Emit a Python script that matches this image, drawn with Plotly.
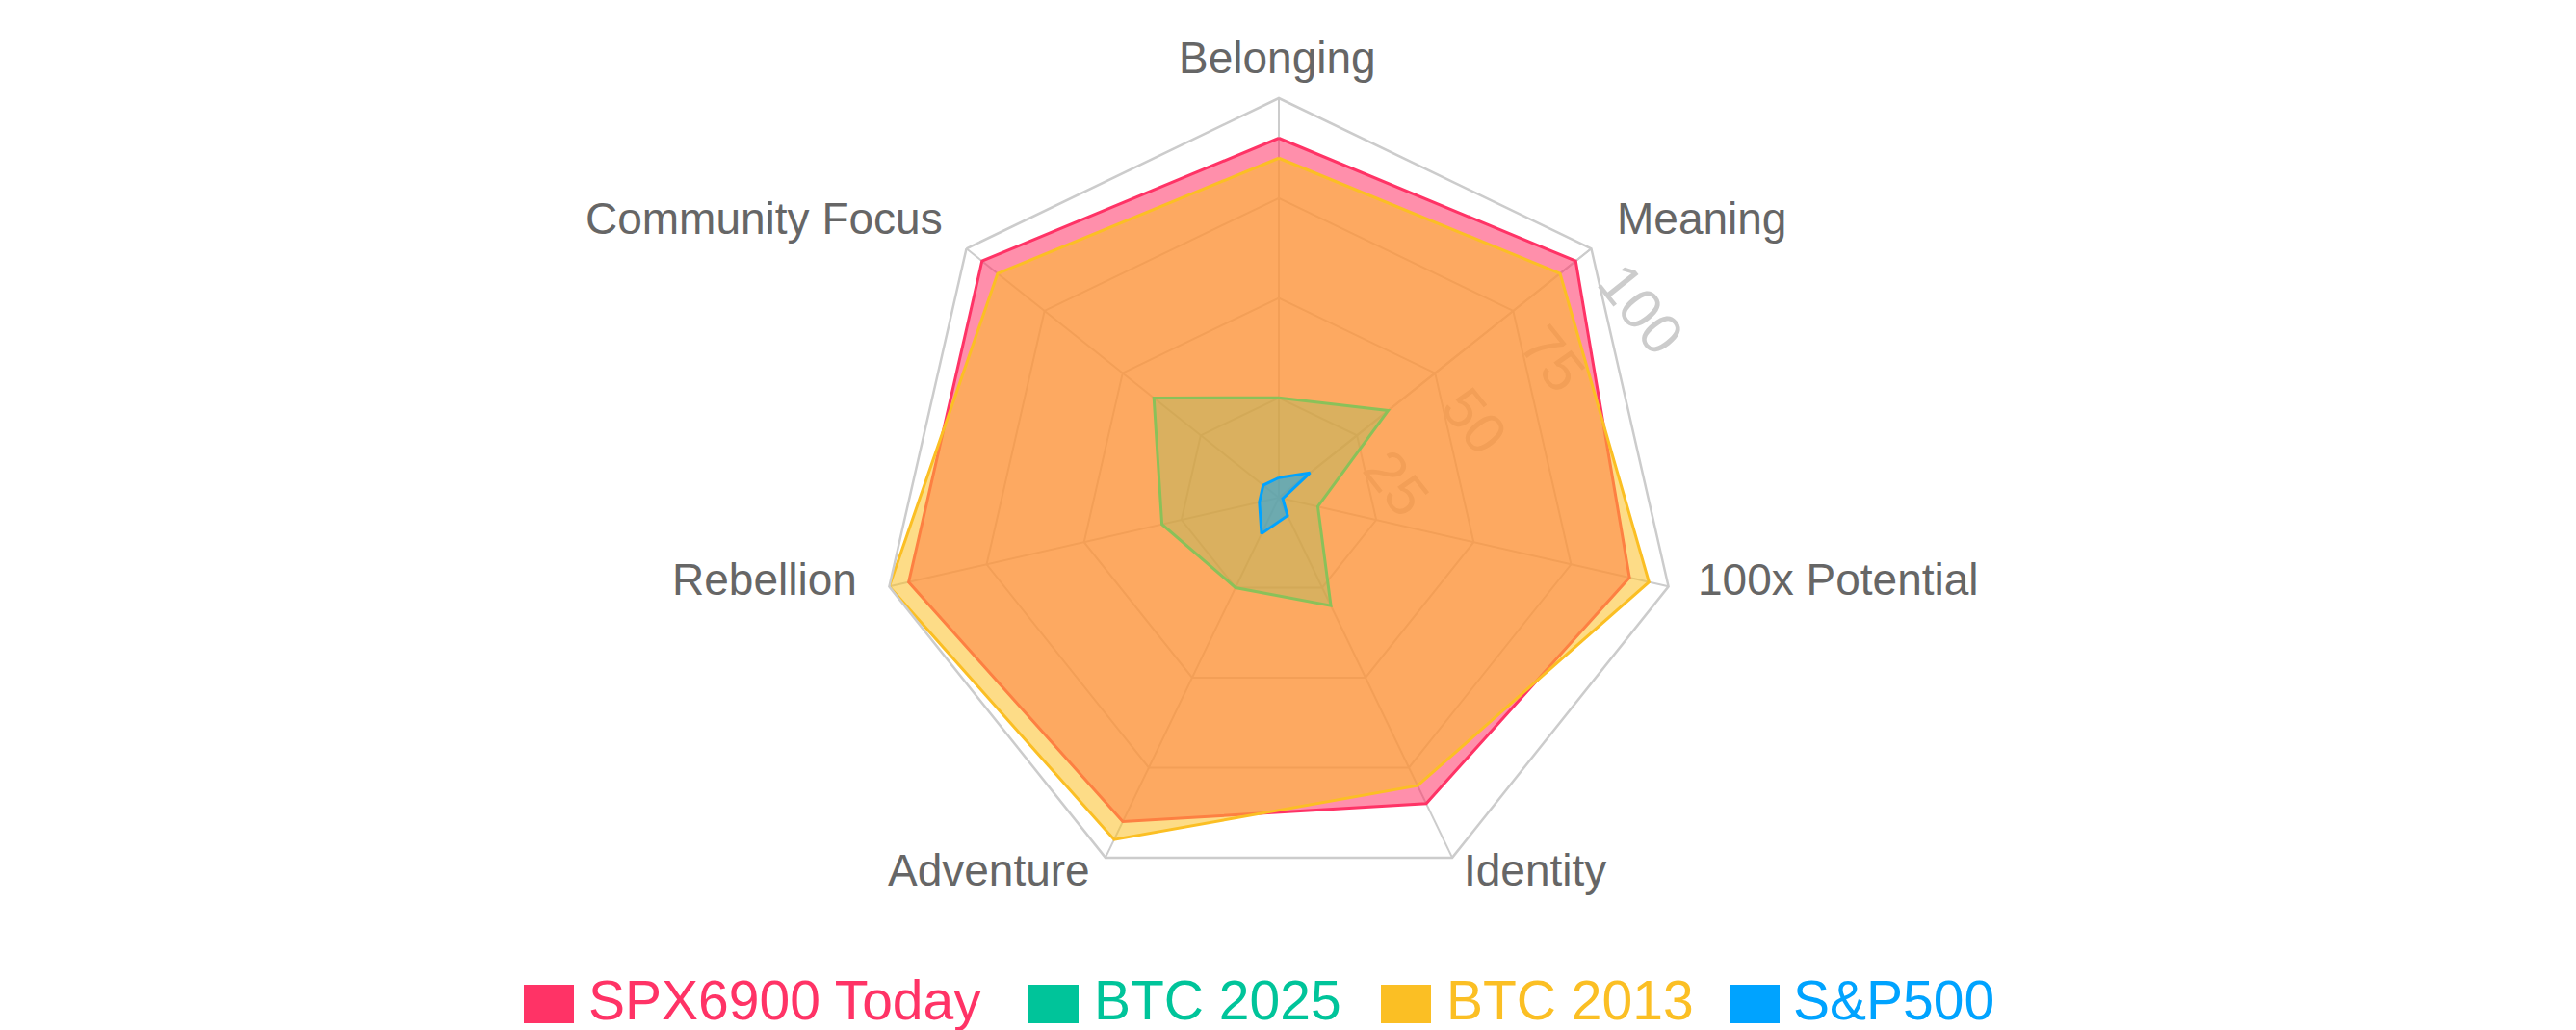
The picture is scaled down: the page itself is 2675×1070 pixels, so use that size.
import plotly.graph_objects as go

categories = ["Belonging", "Meaning", "100x Potential", "Identity", "Adventure", "Rebellion", "Community Focus"]
spx6900_today = [90, 95, 90, 85, 90, 95, 95]
btc_2025 = [25, 35, 10, 30, 25, 30, 40]
btc_2013 = [85, 90, 95, 80, 95, 100, 90]
sp500 = [5, 10, 1, 5, 10, 5, 5]
series_names = ["SPX6900 Today", "BTC 2025", "BTC 2013", "S&P500"]
radial_ticks = [25, 50, 75, 100]

W, H = 2675, 1070
colors = ["#FF3366", "#00C49A", "#FBBF24", "#00A3FF"]
fills = ["rgba(255,51,102,0.55)", "rgba(0,196,154,0.3)", "rgba(251,191,36,0.55)", "rgba(0,163,255,0.5)"]
values = [spx6900_today, btc_2025, btc_2013, sp500]

fig = go.Figure()
for name, vals, col, fc in zip(series_names, values, colors, fills):
    fig.add_trace(go.Scatterpolar(
        r=vals + vals[:1], theta=categories + categories[:1],
        mode="lines", fill="toself", fillcolor=fc,
        line=dict(color=col, width=3), name=name, showlegend=False,
    ))

cx, cy, R = 1328, 517, 415
fig.update_layout(
    width=W, height=H, margin=dict(l=0, r=0, t=0, b=0),
    paper_bgcolor="white", plot_bgcolor="white",
    font=dict(family="Liberation Sans, Arial, sans-serif"),
    polar=dict(
        domain=dict(x=[(cx - R) / W, (cx + R) / W], y=[(H - cy - R) / H, (H - cy + R) / H]),
        bgcolor="white",
        gridshape="linear",
        angularaxis=dict(rotation=90, direction="clockwise", showline=True,
                         linecolor="#cccccc", linewidth=2.5, gridcolor="#cccccc", gridwidth=2,
                         showticklabels=False, ticks=""),
        radialaxis=dict(range=[0, 100], tickvals=radial_ticks, angle=30, tickangle=90,
                        showline=True, linecolor="#cccccc", linewidth=2,
                        gridcolor="#cccccc", gridwidth=2, layer="below traces",
                        ticks="outside", ticklen=18, tickcolor="rgba(0,0,0,0)",
                        tickfont=dict(size=60, color="#cccccc")),
    ),
)

# category labels around the chart (text from the categories list)
label_xy = [(1326, 60, "center"), (1677, 227, "left"), (1761, 602, "left"), (1518, 904, "left"),
            (1134, 904, "right"), (892, 602, "right"), (981, 227, "right")]
for cat, (lx, ly, anc) in zip(categories, label_xy):
    fig.add_annotation(xref="paper", yref="paper", x=lx / W, y=1 - ly / H,
                       xanchor=anc, yanchor="middle", showarrow=False,
                       text=cat, font=dict(size=46, color="#666666"))

# legend drawn as boxes + colored text
box_x = [544, 1068, 1434, 1796]
text_x = [609, 1134, 1500, 1860]
for i, name in enumerate(series_names):
    fig.add_shape(type="rect", xref="paper", yref="paper",
                  x0=box_x[i] / W, x1=(box_x[i] + 52) / W,
                  y0=1 - 1063 / H, y1=1 - 1023 / H,
                  fillcolor=colors[i], line=dict(width=0))
    fig.add_annotation(xref="paper", yref="paper", x=text_x[i] / W, y=1 - 1039 / H,
                       xanchor="left", yanchor="middle", showarrow=False,
                       text=name, font=dict(size=57, color=colors[i]))

fig.write_html("out.html")
